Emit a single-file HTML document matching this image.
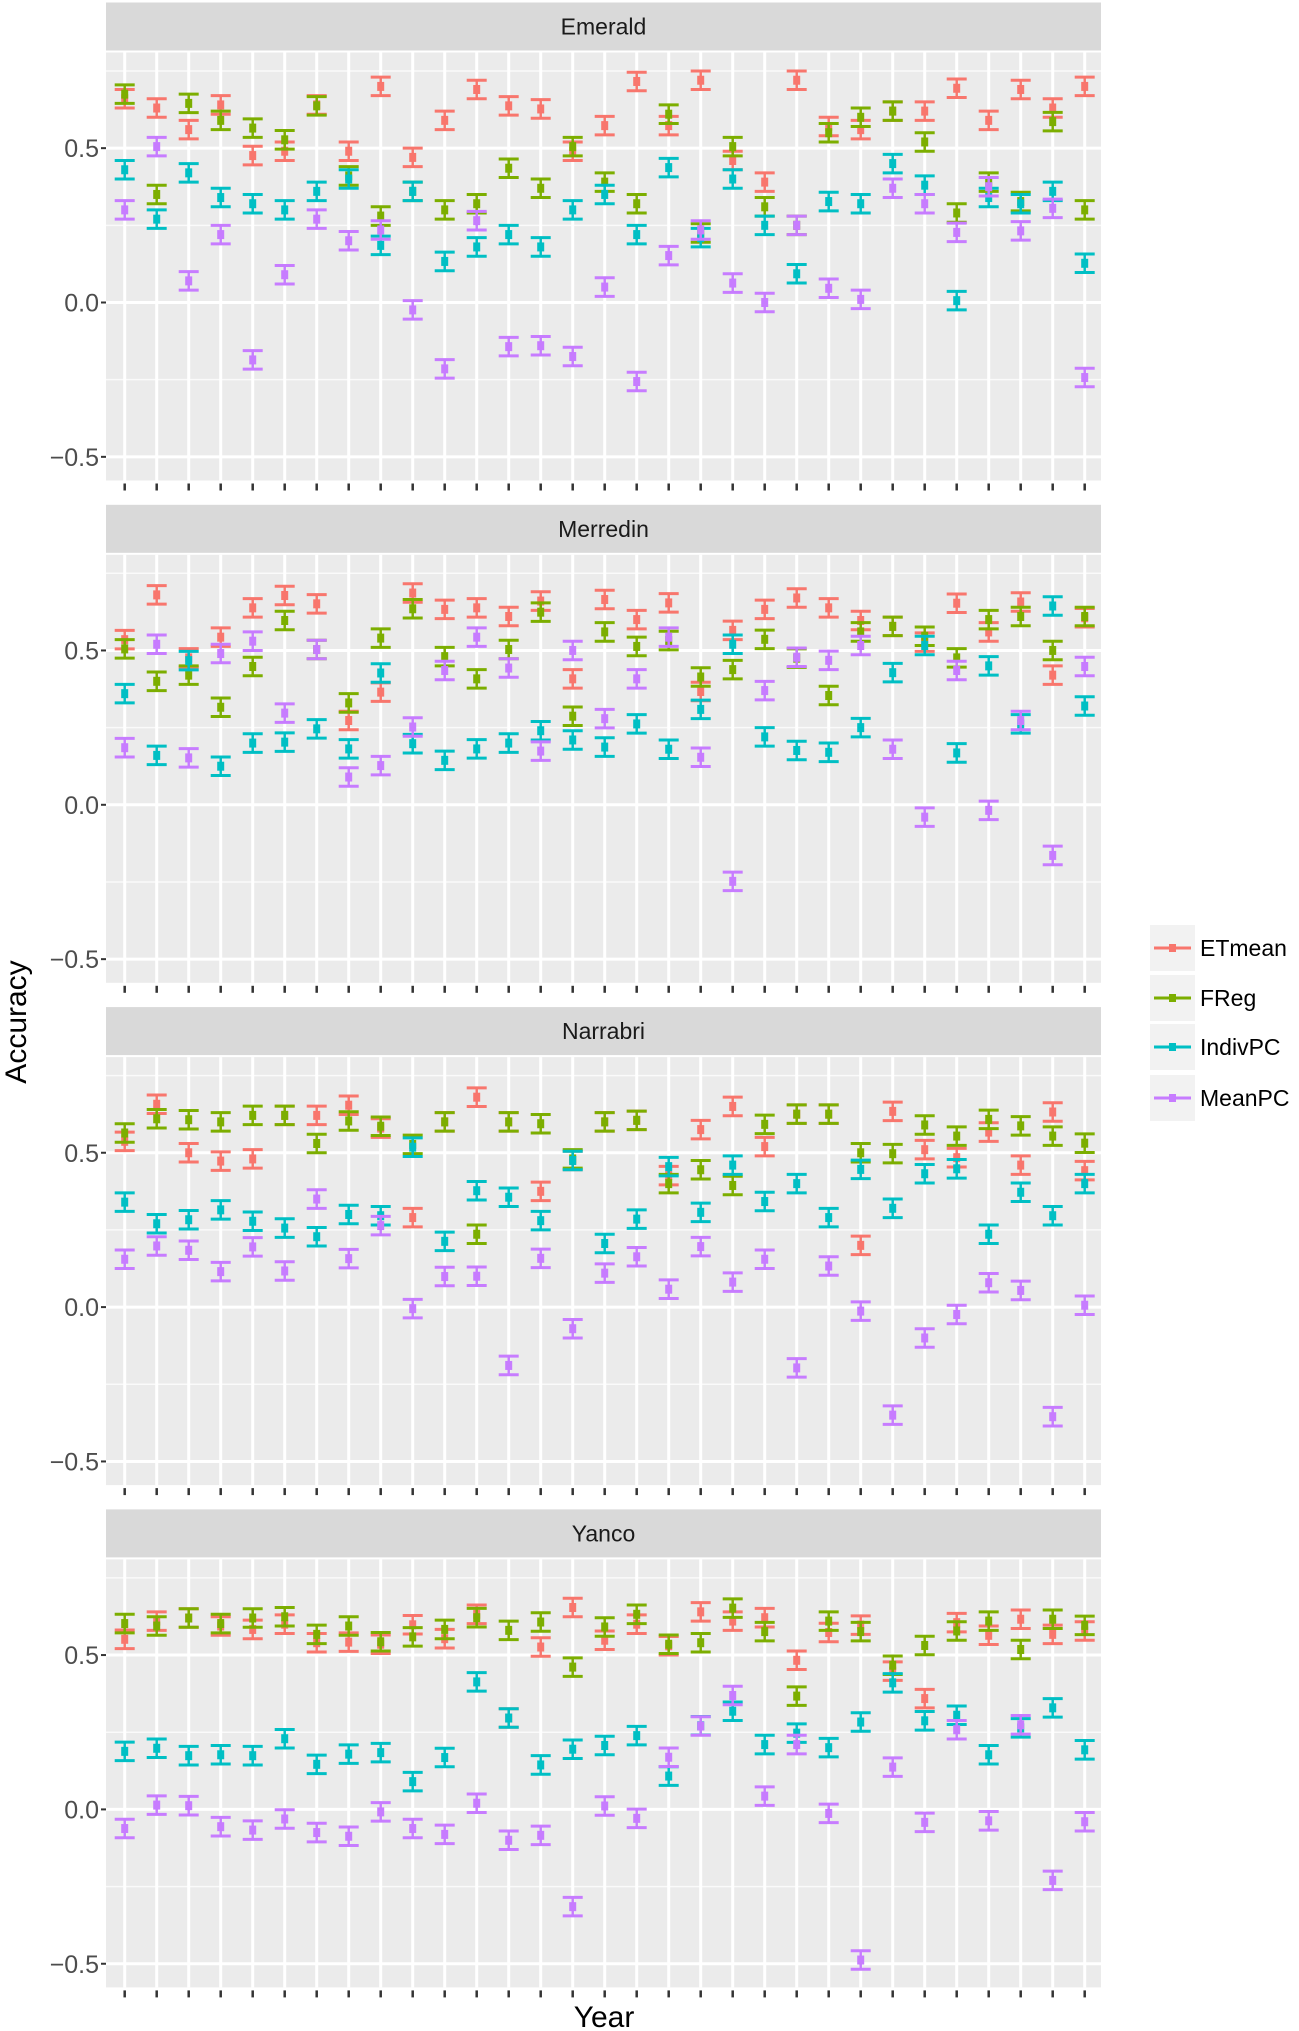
<!DOCTYPE html>
<html><head><meta charset="utf-8"><style>
html,body{margin:0;padding:0;background:#fff;}
svg{display:block;font-family:"Liberation Sans",Arial,sans-serif;}
</style></head><body>
<svg id="chart" width="1299" height="2031" viewBox="0 0 1299 2031" xmlns="http://www.w3.org/2000/svg"></svg>
<script>
const panels = ["Emerald","Merredin","Narrabri","Yanco"];
const seriesNames = ["ETmean","FReg","IndivPC","MeanPC"];
const seriesColors = ["#F8766D","#7CAE00","#00BFC4","#C77CFF"];
const yTicks = [-0.5,0,0.5];
const yTickLabels = ["\u22120.5","0.0","0.5"];
const errHalf = 0.03;
const emeraldET = [0.66,0.63,0.56,0.64,0.476,0.49,0.64,0.49,0.70,0.47,0.59,0.69,0.637,0.627,0.49,0.573,0.716,0.573,0.72,0.46,0.39,0.72,0.57,0.56,0.62,0.62,0.694,0.59,0.69,0.63,0.70];
const emeraldFR = [0.675,0.35,0.645,0.59,0.565,0.527,0.637,0.41,0.28,0.36,0.30,0.32,0.435,0.37,0.505,0.39,0.32,0.61,0.225,0.505,0.31,0.25,0.55,0.60,0.62,0.52,0.29,0.39,0.327,0.586,0.30];
const emeraldIP = [0.43,0.27,0.42,0.34,0.32,0.30,0.36,0.40,0.185,0.36,0.133,0.18,0.22,0.18,0.30,0.35,0.22,0.437,0.21,0.40,0.25,0.093,0.327,0.32,0.45,0.38,0.006,0.34,0.32,0.36,0.127];
const emeraldMP = [0.30,0.505,0.07,0.22,-0.186,0.09,0.27,0.20,0.235,-0.024,-0.215,0.265,-0.143,-0.14,-0.175,0.05,-0.256,0.152,0.235,0.063,0.0,0.25,0.046,0.01,0.37,0.32,0.227,0.375,0.232,0.305,-0.243];
const merredinET = [0.535,0.68,0.476,0.543,0.638,0.678,0.651,0.273,0.365,0.686,0.633,0.638,0.61,0.66,0.408,0.665,0.60,0.654,0.367,0.565,0.633,0.67,0.638,0.597,0.578,0.527,0.653,0.56,0.657,0.42,0.606];
const merredinFR = [0.505,0.40,0.42,0.316,0.448,0.597,0.503,0.33,0.54,0.635,0.48,0.408,0.503,0.624,0.287,0.56,0.513,0.532,0.414,0.438,0.536,0.475,0.354,0.56,0.578,0.546,0.476,0.60,0.61,0.50,0.61];
const merredinIP = [0.36,0.16,0.467,0.125,0.20,0.203,0.246,0.181,0.427,0.198,0.144,0.181,0.20,0.24,0.21,0.187,0.262,0.18,0.309,0.52,0.22,0.176,0.17,0.25,0.428,0.516,0.168,0.45,0.262,0.644,0.32];
const merredinMP = [0.185,0.52,0.152,0.49,0.53,0.297,0.503,0.09,0.127,0.252,0.435,0.543,0.443,0.174,0.50,0.279,0.408,0.543,0.154,-0.248,0.37,0.478,0.468,0.516,0.18,-0.04,0.435,-0.018,0.273,-0.164,0.448];
const narrabriET = [0.537,0.657,0.50,0.473,0.48,0.621,0.621,0.654,0.58,0.29,0.60,0.68,0.60,0.375,0.475,0.60,0.605,0.426,0.575,0.65,0.52,0.625,0.625,0.20,0.634,0.51,0.484,0.567,0.46,0.632,0.442];
const narrabriFR = [0.564,0.61,0.607,0.60,0.621,0.621,0.53,0.603,0.586,0.527,0.60,0.236,0.60,0.594,0.48,0.60,0.605,0.40,0.445,0.394,0.592,0.625,0.625,0.50,0.497,0.59,0.554,0.608,0.587,0.554,0.531];
const narrabriIP = [0.34,0.27,0.283,0.315,0.278,0.256,0.228,0.30,0.296,0.518,0.213,0.377,0.356,0.28,0.475,0.206,0.285,0.455,0.307,0.46,0.342,0.40,0.29,0.446,0.32,0.432,0.448,0.236,0.372,0.296,0.40];
const narrabriMP = [0.155,0.198,0.184,0.115,0.195,0.117,0.35,0.157,0.264,-0.005,0.099,0.10,-0.189,0.158,-0.07,0.11,0.163,0.058,0.196,0.081,0.155,-0.197,0.133,-0.013,-0.35,-0.10,-0.024,0.079,0.054,-0.355,0.006];
const yancoET = [0.551,0.61,0.62,0.594,0.583,0.60,0.54,0.542,0.535,0.598,0.553,0.632,0.296,0.526,0.654,0.548,0.60,0.53,0.64,0.61,0.621,0.483,0.573,0.597,0.448,0.359,0.605,0.564,0.616,0.567,0.578];
const yancoFR = [0.602,0.594,0.62,0.602,0.62,0.624,0.567,0.594,0.543,0.559,0.583,0.621,0.58,0.607,0.461,0.591,0.632,0.535,0.54,0.652,0.576,0.367,0.61,0.576,0.467,0.531,0.578,0.61,0.518,0.616,0.596];
const yancoIP = [0.188,0.198,0.174,0.177,0.174,0.229,0.146,0.179,0.184,0.09,0.168,0.413,0.296,0.144,0.195,0.207,0.239,0.108,0.271,0.318,0.21,0.247,0.20,0.283,0.41,0.287,0.305,0.177,0.264,0.329,0.193];
const yancoMP = [-0.062,0.014,0.012,-0.056,-0.067,-0.031,-0.075,-0.087,-0.008,-0.062,-0.081,0.02,-0.10,-0.084,-0.315,0.011,-0.029,0.169,0.27,0.369,0.043,0.21,-0.013,-0.488,0.137,-0.042,0.258,-0.037,0.274,-0.23,-0.04];
const panelData = [
  [emeraldET,emeraldFR,emeraldIP,emeraldMP],
  [merredinET,merredinFR,merredinIP,merredinMP],
  [narrabriET,narrabriFR,narrabriIP,narrabriMP],
  [yancoET,yancoFR,yancoIP,yancoMP]
];

const NS="http://www.w3.org/2000/svg";
const svg=document.getElementById('chart');
function mk(tag,attrs,parent){const e=document.createElementNS(NS,tag);for(const k in attrs)e.setAttribute(k,attrs[k]);(parent||svg).appendChild(e);return e;}
const PX0=106, PX1=1101, PERIOD=502.3, TOP0=2.5, UNIT=308.7;
const nX=31;
function xScale(i){return 124.7 + i*(1084.7-124.7)/(nX-1);}
function yScale(p,v){return TOP0+p*PERIOD+300 - v*UNIT;}

panels.forEach((name,p)=>{
  const t=TOP0+p*PERIOD;
  const g=mk('g',{});
  
  
  const strip=mk('rect',{x:PX0,y:t,width:PX1-PX0,height:48,fill:'#d9d9d9'},g);
  
  
  const st=mk('text',{x:(PX0+PX1)/2,y:t+32,'text-anchor':'middle','font-size':23,fill:'#1a1a1a'},g);
  st.textContent=name;
  
  
  const top=t+50, bot=t+478;
  const bg=mk('rect',{x:PX0,y:top,width:PX1-PX0,height:bot-top,fill:'#ebebeb'},g);
  
  
  [-0.25,0.25,0.75].forEach(v=>{mk('line',{x1:PX0,x2:PX1,y1:yScale(p,v),y2:yScale(p,v),stroke:'#fafafa','stroke-width':1.5},g);});
  yTicks.forEach((v,k)=>{
    const y=yScale(p,v);
    mk('line',{x1:PX0,x2:PX1,y1:y,y2:y,stroke:'#fff','stroke-width':3},g);
    mk('line',{x1:101,x2:106,y1:y,y2:y,stroke:'#333','stroke-width':2},g);
    const lb=mk('text',{x:99,y:y+9,'text-anchor':'end','font-size':25,fill:'#4d4d4d'},g);
    lb.textContent=yTickLabels[k];
    
    
  });
  for(let i=0;i<nX;i++){
    const x=xScale(i);
    mk('line',{x1:x,x2:x,y1:top,y2:bot,stroke:'#fff','stroke-width':3},g);
    mk('line',{x1:x,x2:x,y1:bot+3,y2:bot+10,stroke:'#333','stroke-width':2.5},g);
  }
  panelData[p].forEach((vals,s)=>{
    const col=seriesColors[s];
    vals.forEach((v,i)=>{
      const x=xScale(i), y=yScale(p,v), y1=yScale(p,v+errHalf), y2=yScale(p,v-errHalf);
      const eb=mk('g',{},g);
      
      
      mk('line',{x1:x-10,x2:x+10,y1:y1,y2:y1,stroke:col,'stroke-width':3},eb);
      mk('line',{x1:x-10,x2:x+10,y1:y2,y2:y2,stroke:col,'stroke-width':3},eb);
      mk('line',{x1:x,x2:x,y1:y1,y2:y2,stroke:col,'stroke-width':2.5},eb);
      mk('rect',{x:x-3.5,y:y-4.5,width:7,height:9,fill:col},eb);
    });
  });
});

const yt=mk('text',{x:0,y:0,'text-anchor':'middle','font-size':30,fill:'#000',transform:'translate(26,1022) rotate(-90)'});
yt.textContent='Accuracy';


const xt=mk('text',{x:604,y:2027,'text-anchor':'middle','font-size':30,fill:'#000'});
xt.textContent='Year';



const legendY=[948,998,1047,1098];
seriesNames.forEach((n,s)=>{
  const lg=mk('g',{});
  
  
  const cy=legendY[s];
  mk('rect',{x:1150,y:cy-23,width:45,height:46,fill:'#f2f2f2'},lg);
  mk('line',{x1:1154,x2:1191,y1:cy,y2:cy,stroke:seriesColors[s],'stroke-width':3},lg);
  mk('rect',{x:1169,y:cy-4,width:7,height:8,fill:seriesColors[s]},lg);
  const tx=mk('text',{x:1200,y:cy+8,'font-size':23,fill:'#000'},lg);
  tx.textContent=n;
});
</script>
</body></html>
